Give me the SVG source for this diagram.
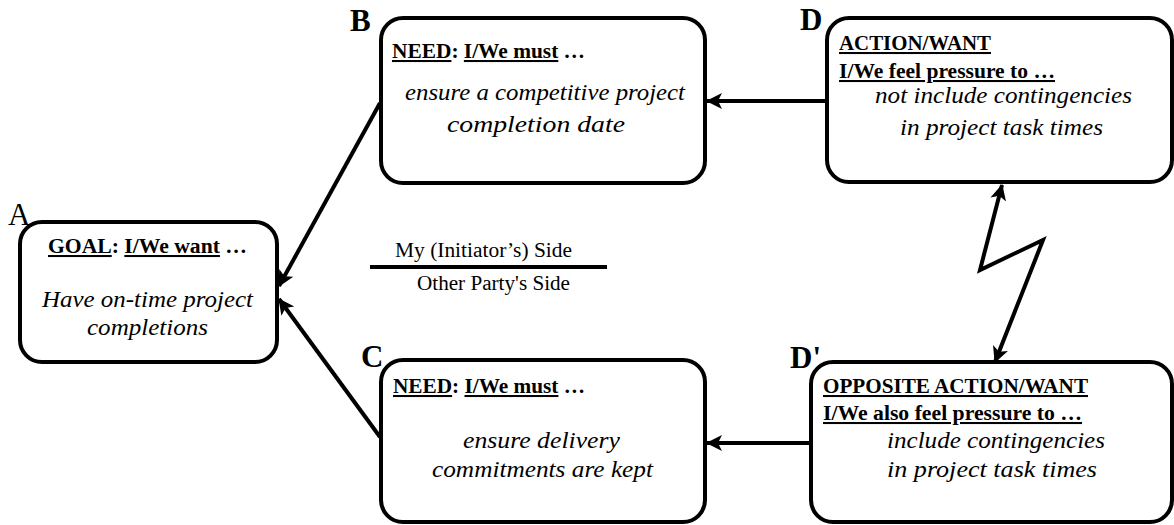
<svg xmlns="http://www.w3.org/2000/svg" width="1174" height="525" viewBox="0 0 1174 525">
<style>
.box{fill:#fff;stroke:#000;stroke-width:4}
text{font-family:'Liberation Serif',serif;fill:#000}
.lbl{font-weight:bold;font-size:31px}
.hd{font-weight:bold;font-size:20.5px}
.it{font-style:italic;font-size:24px}
.mid{font-size:20.5px}
.u{text-decoration:underline}
.con{fill:none;stroke:#000;stroke-width:4}
</style>
<defs>
<marker id="ah" markerUnits="userSpaceOnUse" markerWidth="20" markerHeight="20" refX="15" refY="8" orient="auto-start-reverse" viewBox="0 0 20 16">
<path d="M0,0 L16,8 L0,16 L4,8 Z" fill="#000"/>
</marker>
</defs>
<g id="connectors">
<line class="con" x1="380" y1="103" x2="279" y2="286" marker-end="url(#ah)"/>
<line class="con" x1="380" y1="437" x2="279" y2="299" marker-end="url(#ah)"/>
<line class="con" x1="826" y1="101" x2="707" y2="101" marker-end="url(#ah)"/>
<line class="con" x1="810" y1="443" x2="707" y2="443" marker-end="url(#ah)"/>
<polyline class="con" points="1002,185 980,270 1043,240 995,362" marker-start="url(#ah)" marker-end="url(#ah)"/>
</g>
<g id="node-A">
<rect class="box" x="20" y="222" width="257" height="140" rx="22"/>
<text class="lbl" x="8" y="225" style="font-weight:normal">A</text>
<text class="hd" x="48" y="253" textLength="199" lengthAdjust="spacingAndGlyphs"><tspan class="u">GOAL</tspan>: <tspan class="u">I/We want</tspan> …</text>
<text class="it" x="42" y="307" textLength="211" lengthAdjust="spacingAndGlyphs">Have on-time project</text>
<text class="it" x="87" y="335" textLength="121" lengthAdjust="spacingAndGlyphs">completions</text>
</g>
<g id="node-B">
<rect class="box" x="381" y="18" width="324" height="165" rx="22"/>
<text class="lbl" x="350" y="31">B</text>
<text class="hd" x="392" y="58" textLength="193" lengthAdjust="spacingAndGlyphs"><tspan class="u">NEED</tspan>: <tspan class="u">I/We must</tspan> …</text>
<text class="it" x="405" y="100" textLength="280" lengthAdjust="spacingAndGlyphs">ensure a competitive project</text>
<text class="it" x="447" y="132" textLength="178" lengthAdjust="spacingAndGlyphs">completion date</text>
</g>
<g id="node-D">
<rect class="box" x="827" y="18" width="345" height="164" rx="22"/>
<text class="lbl" x="800" y="30">D</text>
<text class="hd u" x="839" y="50" textLength="152" lengthAdjust="spacingAndGlyphs">ACTION/WANT</text>
<text class="hd u" x="839" y="78" textLength="216" lengthAdjust="spacingAndGlyphs">I/We feel pressure to …</text>
<text class="it" x="875" y="103" textLength="257" lengthAdjust="spacingAndGlyphs">not include contingencies</text>
<text class="it" x="900" y="135" textLength="203" lengthAdjust="spacingAndGlyphs">in project task times</text>
</g>
<g id="node-C">
<rect class="box" x="381" y="360" width="324" height="162" rx="22"/>
<text class="lbl" x="361" y="367">C</text>
<text class="hd" x="393" y="393" textLength="192" lengthAdjust="spacingAndGlyphs"><tspan class="u">NEED</tspan>: <tspan class="u">I/We must</tspan> …</text>
<text class="it" x="463" y="448" textLength="157" lengthAdjust="spacingAndGlyphs">ensure delivery</text>
<text class="it" x="432" y="477" textLength="221" lengthAdjust="spacingAndGlyphs">commitments are kept</text>
</g>
<g id="node-Dprime">
<rect class="box" x="811" y="362" width="361" height="160" rx="22"/>
<text class="lbl" x="790" y="368">D'</text>
<text class="hd u" x="823" y="393" textLength="265" lengthAdjust="spacingAndGlyphs">OPPOSITE ACTION/WANT</text>
<text class="hd u" x="823" y="420" textLength="259" lengthAdjust="spacingAndGlyphs">I/We also feel pressure to …</text>
<text class="it" x="887" y="448" textLength="218" lengthAdjust="spacingAndGlyphs">include contingencies</text>
<text class="it" x="887" y="477" textLength="210" lengthAdjust="spacingAndGlyphs">in project task times</text>
</g>
<g id="divider">
<text class="mid" x="395" y="257" textLength="177" lengthAdjust="spacingAndGlyphs">My (Initiator’s) Side</text>
<line x1="370" y1="267" x2="607" y2="267" stroke="#000" stroke-width="4"/>
<text class="mid" x="417" y="290" textLength="153" lengthAdjust="spacingAndGlyphs">Other Party's Side</text>
</g>
</svg>
